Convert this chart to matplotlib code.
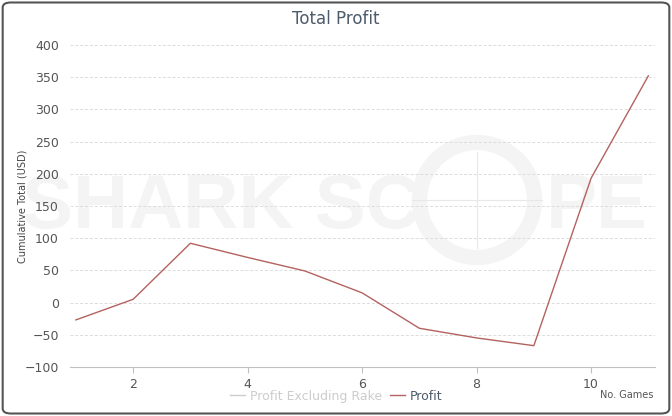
import numpy as np
import matplotlib
matplotlib.use("Agg")
import matplotlib.pyplot as plt
from matplotlib.patches import FancyBboxPatch, Circle
from matplotlib.lines import Line2D

games = [1, 2, 3, 4, 5, 6, 7, 8, 9, 10, 11]
profit = [-27, 5, 92, 70, 49, 15, -40, -55, -67, 193, 352]
y_ticks = [-100, -50, 0, 50, 100, 150, 200, 250, 300, 350, 400]
x_ticks = [2, 4, 6, 8, 10]

plt.rcParams['font.family'] = ['DejaVu Sans']

W, H = 672, 416
fig = plt.figure(figsize=(W / 100, H / 100), dpi=100)
ax = fig.add_axes([0.104, 0.118, 0.871, 0.774])

# faint logo watermark, kept inside the axes so it sits under grid, line and labels
wm = "#f4f4f4"
ft = fig.transFigure
ax.text(22 / W, 1 - 228 / H, "SHARK SC", transform=ft, family="Liberation Sans",
        fontsize=55, fontweight="bold", color=wm, ha="left", va="baseline",
        zorder=0, clip_on=False)
ax.text(546 / W, 1 - 228 / H, "PE", transform=ft, family="Liberation Sans",
        fontsize=55, fontweight="bold", color=wm, ha="left", va="baseline",
        zorder=0, clip_on=False)
ring = Circle((477, H - 200), 57.5, transform=None, fill=False,
              edgecolor=wm, linewidth=11, zorder=0, clip_on=False)
ax.add_artist(ring)
cx, cy = 477 / W, 1 - 200 / H
ax.add_artist(Line2D([cx - 65 / W, cx + 65 / W], [cy, cy], transform=ft,
                     color="#e8e8e8", lw=0.8, zorder=0))
ax.add_artist(Line2D([cx, cx], [cy - 48 / H, cy + 48 / H], transform=ft,
                     color="#e8e8e8", lw=0.8, zorder=0))

ax.plot(games, profit, color="#b3625f", lw=1.0, zorder=3)

ax.set_xlim(0.895, 11.12)
ax.set_ylim(-100, 400)
ax.set_yticks(y_ticks)
ax.set_xticks(x_ticks)
ax.yaxis.grid(True, linestyle=(0, (3, 2)), color="#dcdcdc", lw=0.7)
ax.set_axisbelow(True)
for s in ["top", "right", "left"]:
    ax.spines[s].set_visible(False)
ax.spines["bottom"].set_color("#c0c0c0")
ax.tick_params(axis="y", length=0, labelsize=9, labelcolor="#555555", pad=8)
ax.tick_params(axis="x", length=4, color="#c0c0c0", labelsize=9, labelcolor="#555555", pad=4)
ax.patch.set_alpha(0)

fig.text(0.5, 0.955, "Total Profit", ha="center", va="center", fontsize=12, color="#4d5b6b")
fig.text(0.034, 0.505, "Cumulative Total (USD)", rotation=90, ha="center", va="center",
         fontsize=7, color="#444444")
fig.text(0.972, 0.05, "No. Games", ha="right", va="center", fontsize=7, color="#555555")

handles = [Line2D([], [], color="#cccccc", lw=1), Line2D([], [], color="#b3625f", lw=1)]
leg = fig.legend(handles, ["Profit Excluding Rake", "Profit"], loc="center",
                 bbox_to_anchor=(0.5, 0.048), ncol=2, frameon=False, fontsize=9,
                 handlelength=1.2, handletextpad=0.4, columnspacing=0.6)
leg.get_texts()[0].set_color("#cccccc")
leg.get_texts()[1].set_color("#4d5b6b")

border = FancyBboxPatch((0.004, 0.006), 0.992, 0.988, boxstyle="round,pad=0,rounding_size=0.012",
                        transform=fig.transFigure, fill=False, edgecolor="#555555", lw=1.5)
fig.patches.append(border)

fig.savefig("out.png", dpi=100)
